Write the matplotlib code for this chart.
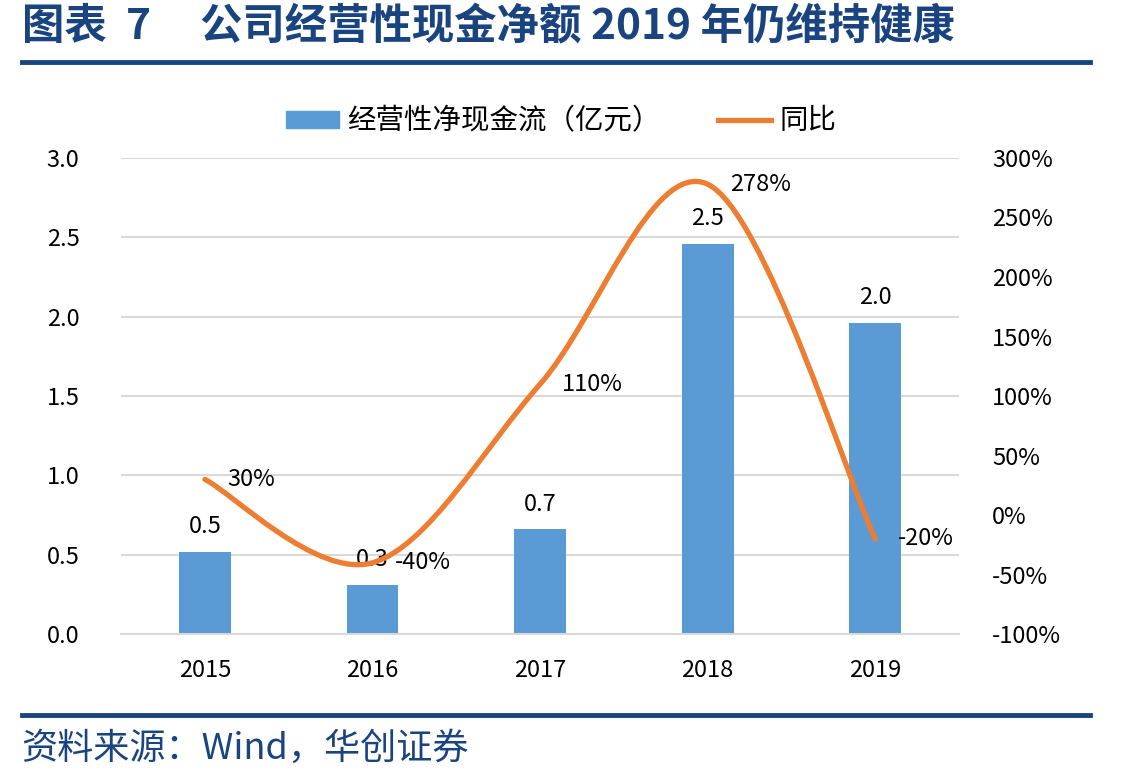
import numpy as np
import matplotlib.pyplot as plt
from matplotlib.path import Path
from matplotlib.patches import PathPatch
from matplotlib.lines import Line2D
from matplotlib.patches import Patch

plt.rcParams['font.family'] = ['Noto Sans CJK SC', 'DejaVu Sans']

years = ['2015', '2016', '2017', '2018', '2019']
cash_flow = [0.52, 0.31, 0.66, 2.46, 1.96]   # 亿元
yoy = [30, -40, 110, 278, -20]               # %
yoy_labels = ['30%', '-40%', '110%', '278%', '-20%']

blue = '#5B9BD5'
orange = '#ED7D31'
navy = '#1A4480'

fig = plt.figure(figsize=(11.43, 7.82), dpi=100)
ax = fig.add_axes([0.106, 0.189, 0.733, 0.609])
ax2 = ax.twinx()

x = np.arange(len(years))
bars = ax.bar(x, cash_flow, width=0.31, color=blue, zorder=2)
ax.bar_label(bars, labels=[f'{v:.1f}' for v in cash_flow], padding=10, fontsize=17)

ax.set_xlim(-0.5, len(years) - 0.5)
ax.set_ylim(0, 3.0)
ax.set_yticks(np.arange(0, 3.01, 0.5))
ax.set_yticklabels([f'{v:.1f}' for v in np.arange(0, 3.01, 0.5)])
ax.set_xticks(x)
ax.set_xticklabels(years)
ax.grid(axis='y', color='#D9D9D9', linewidth=1.5, zorder=0)
ax.set_axisbelow(True)
for s in ['top', 'right', 'left']:
    ax.spines[s].set_visible(False)
ax.spines['bottom'].set_color('#D9D9D9')
ax.spines['bottom'].set_linewidth(1.5)
ax.tick_params(axis='both', length=0, labelsize=17)
ax.tick_params(axis='y', pad=30)
ax.tick_params(axis='x', pad=18)

# smoothed line (Excel style bezier through the points)
ax2.set_ylim(-100, 300)
ax2.set_yticks(range(-100, 301, 50))
ax2.set_yticklabels([f'{v}%' for v in range(-100, 301, 50)])
ax2.tick_params(axis='y', length=0, labelsize=17, pad=24)
for s in ax2.spines.values():
    s.set_visible(False)

pts = np.column_stack([x, yoy]).astype(float)
ext = np.vstack([pts[0], pts, pts[-1]])
verts = [tuple(pts[0])]
codes = [Path.MOVETO]
for i in range(len(pts) - 1):
    p0, p1, p2, p3 = ext[i], ext[i + 1], ext[i + 2], ext[i + 3]
    c1 = p1 + (p2 - p0) / 6
    c2 = p2 - (p3 - p1) / 6
    verts += [tuple(c1), tuple(c2), tuple(p2)]
    codes += [Path.CURVE4] * 3
ax2.add_patch(PathPatch(Path(verts, codes), facecolor='none', edgecolor=orange,
                        linewidth=3.8, capstyle='round', zorder=3))

for xi, yi, lab in zip(x, yoy, yoy_labels):
    ax2.annotate(lab, (xi, yi), xytext=(16, 0), textcoords='offset points',
                 ha='left', va='center', fontsize=17)

handles = [Patch(color=blue), Line2D([0], [0], color=orange, linewidth=3.8)]
fig.legend(handles, ['经营性净现金流（亿元）', '同比'], loc='center', ncol=2,
           bbox_to_anchor=(0.491, 0.845), frameon=False, fontsize=20.5,
           handlelength=1.85, handleheight=0.55, columnspacing=2.0, handletextpad=0.3)

# title, rules and source
fig.text(0.019, 0.965, '图表  7', fontsize=30.5,
         fontweight='bold', color=navy, va='center', ha='left')
fig.text(0.175, 0.965, '公司经营性现金净额 2019 年仍维持健康', fontsize=30.5,
         fontweight='bold', color=navy, va='center', ha='left')
fig.add_artist(Line2D([0.019, 0.954], [0.921, 0.921], color=navy, linewidth=3.5))
fig.add_artist(Line2D([0.019, 0.954], [0.086, 0.086], color=navy, linewidth=3.5))
fig.text(0.019, 0.043, '资料来源：Wind，华创证券', fontsize=26, style='italic',
         color=navy, va='center', ha='left')

fig.savefig('out.png', dpi=100)
